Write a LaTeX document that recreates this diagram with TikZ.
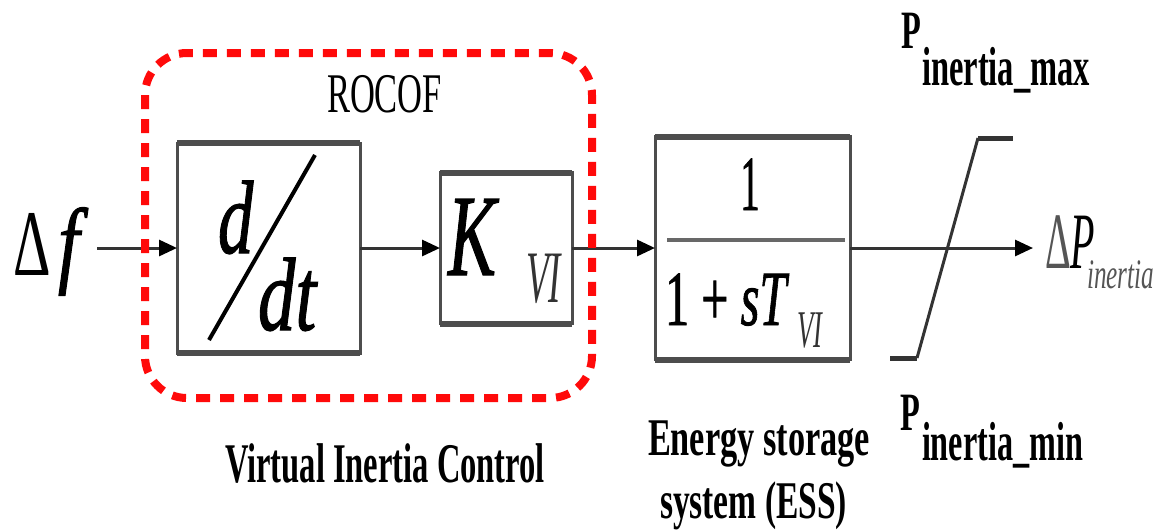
\documentclass[tikz,border=0pt]{standalone}
\usepackage{fontspec}
\setmainfont{Liberation Serif}
\newfontfamily\heavyfont[FakeBold=1.2]{Liberation Serif}
\usepackage{graphicx}
\usetikzlibrary{arrows.meta}
\definecolor{boxgray}{HTML}{4D4D4D}
\definecolor{linegray}{HTML}{333333}
\definecolor{redline}{HTML}{FF0A0A}
\definecolor{subgray}{HTML}{555555}
\newcommand{\sq}[2][0.6]{\scalebox{#1}[1]{#2}}
\newcommand{\fs}[1]{\fontsize{#1}{#1}\selectfont}
\begin{document}
\begin{tikzpicture}[x=1pt,y=-1pt,
  blockbox/.style={draw=boxgray, line width=3pt, fill=white, inner sep=0pt, outer sep=0pt},
  edgebar/.style={draw=boxgray, line width=6pt},
  conn/.style={draw=linegray, line width=3pt, -{Triangle[length=18pt,width=16pt,color=black]}},
  plainline/.style={draw=linegray, line width=3pt},
  txt/.style={inner sep=0pt, outer sep=0pt, anchor=base west},
  roco/.style={draw=redline, line width=8pt, dash pattern=on 14pt off 10pt, rounded corners=42pt}
]
\useasboundingbox (0,0) rectangle (1160,531);

% blocks
\node[blockbox, minimum width=183pt, minimum height=210pt] (dd) at (268.5,248) {};
\node[blockbox, minimum width=132pt, minimum height=151pt] (kvi) at (506,248) {};
\node[blockbox, minimum width=195pt, minimum height=223pt] (ess) at (752.5,248) {};
\foreach \b in {dd,kvi,ess}{
  \draw[edgebar] (\b.north west) -- (\b.north east);
  \draw[edgebar] (\b.south west) -- (\b.south east);
}

% connectors
\coordinate (in) at (97,248);
\coordinate (out) at (1033,248);
\draw[conn] (in) -- (dd.west);
\draw[conn] (dd.east) -- (kvi.west);
\draw[conn] (kvi.east) -- (ess.west);
\draw[conn] (ess.east) -- (out);

% saturation
\coordinate (s1) at (890,358);
\coordinate (s2) at (917,358);
\coordinate (s3) at (978,138);
\coordinate (s4) at (1013,138);
\draw[plainline] (s2) -- (s3);
\draw[draw=linegray, line width=5pt] (s1) -- (s2);
\draw[draw=linegray, line width=5pt] (s3) -- (s4);

% d/dt slash and fraction bar
\draw[black, line width=4pt] (209,340) -- (315,155);
\draw[draw=boxgray!85, line width=4pt] (667,240) -- (845,240);

% red dashed frame
\draw[roco] (145,53) rectangle (592,398);

% texts
\node[txt] (delta) at (13,275) {\fs{94}\sq[0.62]{Δ}};
\node[txt] (fvar) at (58,275) {\fs{96}\heavyfont\sq[0.8]{\itshape f}};
\node[txt] (dnum) at (218,253) {\fs{104}\heavyfont\sq[0.68]{\itshape d}};
\node[txt] (dden) at (258,330) {\fs{104}\heavyfont\sq[0.72]{\itshape dt}};
\node[txt] (kk) at (448,275) {\fs{116}\heavyfont\sq[0.62]{\itshape K}};
\node[txt, text=linegray] (kvisub) at (526,302) {\fs{74}\sq[0.5]{\itshape VI}};
\node[txt, anchor=base] (one) at (750,210) {\fs{78}\heavyfont\sq[0.5]{1}};
\node[txt] (den) at (665,325) {\fs{78}\heavyfont\sq[0.62]{1 + \itshape sT}};
\node[txt, text=linegray] (tvisub) at (797,347) {\fs{53}\sq[0.5]{\itshape VI}};
\node[txt] (dp) at (1045,268) {\fs{80}\sq[0.5]{\textcolor{subgray}{Δ}\itshape P}};
\node[txt, text=subgray] (dpsub) at (1087,288) {\fs{42}\sq[0.6]{\itshape inertia}};
\node[txt] (pmax) at (901,48) {\fs{54}\sq[0.6]{\bfseries P}};
\node[txt] (pmaxsub) at (922,85) {\fs{55}\resizebox{168pt}{\height}{\bfseries inertia\_max}};
\node[txt] (pmin) at (900,430) {\fs{54}\sq[0.6]{\bfseries P}};
\node[txt] (pminsub) at (922,460) {\fs{55}\resizebox{161pt}{\height}{\bfseries inertia\_min}};
\node[txt] (rocof) at (327,112) {\fs{56}\resizebox{115pt}{\height}{ROCOF}};
\node[txt] (vic) at (225,482) {\fs{56}\resizebox{320pt}{\height}{\bfseries Virtual Inertia Control}};
\node[txt] (ess1) at (648,455) {\fs{53}\resizebox{222pt}{\height}{\bfseries Energy storage}};
\node[txt] (ess2) at (660,518) {\fs{53}\resizebox{187pt}{\height}{\bfseries system (ESS)}};
\end{tikzpicture}
\end{document}
